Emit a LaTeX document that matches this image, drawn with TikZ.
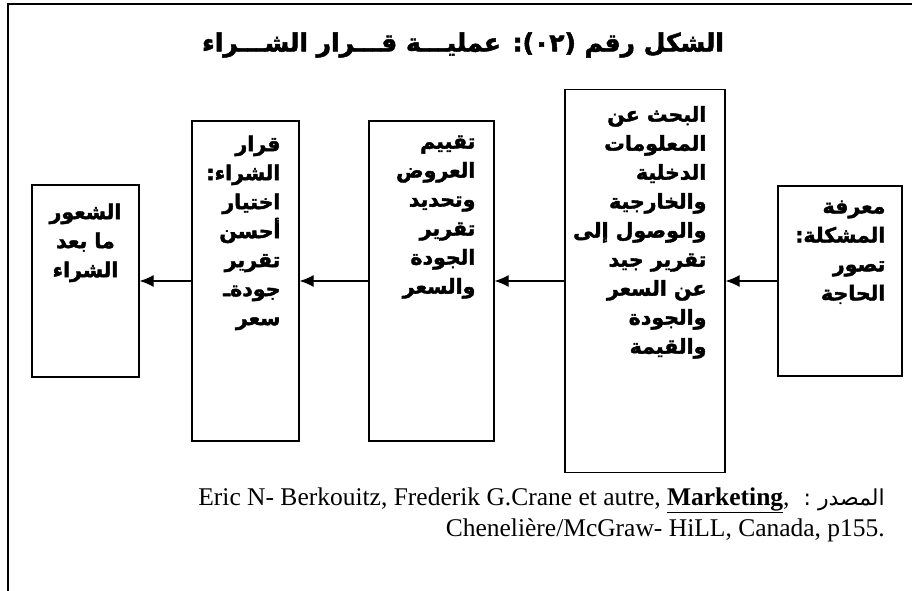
\documentclass[tikz,border=0pt]{standalone}
\usepackage{fontspec}
\setmainfont{Liberation Serif}
\newfontfamily\arabicfont[Script=Arabic]{DejaVu Sans}
\newfontfamily\arabicheavy[Script=Arabic,FakeBold=2]{DejaVu Sans Bold}
\TeXXeTstate=1
\usetikzlibrary{positioning,arrows.meta}
\newcommand\ar[1]{\beginR #1\endR}

\begin{document}
\begin{tikzpicture}[x=1pt,y=-1pt,
  stagebox/.style={draw,line width=1.3pt,inner sep=0pt,minimum height=#1},
  stagetext/.style={
    font=\arabicheavy\fontsize{20.5}{29}\selectfont,
    align=right,
    inner sep=0pt,
  },
  flow/.style={line width=1.1pt,-{Latex[length=14pt,width=12pt]}},
  ]
  \useasboundingbox (0,0) rectangle (912,591);
  \draw[line width=2pt] (8,591) -- (8,4) -- (912,4);

  \node (title) at (463,45)
    {\arabicheavy\fontsize{25}{30}\selectfont
     \ar{الشكل رقم (٠٢): عمليـــة قـــرار الشـــراء}};

  % the five stages, right to left
  \node[stagebox=190pt,minimum width=124pt] (need)     at (840,281) {};
  \node[stagebox=383pt,minimum width=160pt] (search)   at (645,281) {};
  \node[stagebox=320pt,minimum width=125pt] (evaluate) at (431.5,281) {};
  \node[stagebox=320pt,minimum width=107pt] (decide)   at (245.5,281) {};
  \node[stagebox=192pt,minimum width=107pt] (after)    at (85.5,281) {};

  \node[stagetext,anchor=north east,below left=15pt and 17pt of need.north east] (needtext)
    {\ar{معرفة}\\\ar{المشكلة:}\\\ar{تصور}\\\ar{الحاجة}};
  \node[stagetext,anchor=north east,below left=17pt and 19pt of search.north east] (searchtext)
    {\ar{البحث عن}\\\ar{المعلومات}\\\ar{الدخلية}\\\ar{والخارجية}\\\ar{والوصول إلى}\\
     \ar{تقرير جيد}\\\ar{عن السعر}\\\ar{والجودة}\\\ar{والقيمة}};
  \node[stagetext,anchor=north east,below left=15pt and 19pt of evaluate.north east] (evaluatetext)
    {\ar{تقييم}\\\ar{العروض}\\\ar{وتحديد}\\\ar{تقرير}\\\ar{الجودة}\\\ar{والسعر}};
  \node[stagetext,anchor=north east,below left=15pt and 19pt of decide.north east] (decidetext)
    {\ar{قرار}\\\ar{الشراء:}\\\ar{اختيار}\\\ar{أحسن}\\\ar{تقرير}\\\ar{جودةـ}\\\ar{سعر}};
  \node[stagetext,align=center,below=19pt of after.north] (aftertext)
    {\ar{الشعور}\\\ar{ما بعد}\\\ar{الشراء}};

  \draw[flow] (need.west)     -- (search.east);
  \draw[flow] (search.west)   -- (evaluate.east);
  \draw[flow] (evaluate.west) -- (decide.east);
  \draw[flow] (decide.west)   -- (after.east);

  % source
  \node[anchor=base east,inner sep=0pt,font=\fontsize{25.5}{30}\selectfont] (source) at (885,505)
    {Eric N- Berkouitz, Frederik G.Crane et autre, \underline{\textbf{Marketing}},\hspace{14pt}%
     {\arabicfont\fontsize{22}{25}\selectfont\ar{المصدر :}}};
  \node[anchor=base east,inner sep=0pt,font=\fontsize{25.5}{30}\selectfont] (publisher) at (885,536)
    {Chenelière/McGraw- HiLL, Canada, p155.};
\end{tikzpicture}
\end{document}
